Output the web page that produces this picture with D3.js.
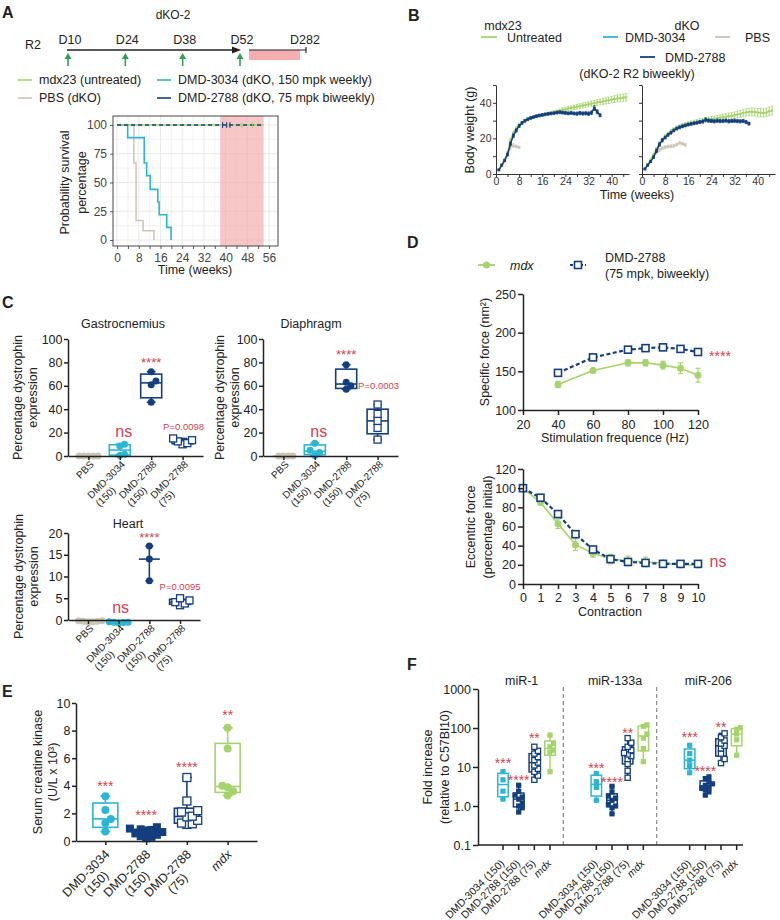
<!DOCTYPE html>
<html>
<head>
<meta charset="utf-8">
<script src="https://cdnjs.cloudflare.com/ajax/libs/d3/7.8.5/d3.min.js"></script>
<style>
  body { margin: 0; background: #fff; }
  text { font-family: "Liberation Sans", Arial, sans-serif; }
</style>
</head>
<body>
<script>
// colours
var cGreen = "#a6d46c", cCyan = "#2bb6d3", cNavy = "#143f7e", cBeige = "#cdc5b6",
    cRed = "#d6404f", cDose = "#2f9e57";

// ---------- data ----------
// A: dosing + survival
var doseDays = [10, 24, 38, 52];
var survPbsT = [0, 6.2, 7, 9.6, 13.6];
var survPbs = [100, 67, 17, 8, 0];
var survCyanT = [0, 3.9, 10, 10.9, 12.2, 15, 15.5, 18.3, 19.9];
var survCyan = [100, 89, 67, 56, 44, 33, 22, 11, 0];
var survAllT = [0, 54];
var survAll = [100, 100];
var censorNavy = [38.9, 40.4, 41.6];
var censorMdx = [46, 50];
var survTicks = [0, 25, 50, 75, 100];

// B: body weight, weekly means and SEM
var bwWeeks = [1, 2, 3, 4, 5, 6, 7, 8, 9, 10, 11, 12, 13, 14, 15, 16, 17, 18, 19, 20, 21, 22, 23,
  24, 25, 26, 27, 28, 29, 30, 31, 32, 33, 34, 35, 36, 37, 38, 39, 40, 41, 42, 43, 44, 45];
var bwMdxL = [2.5, 5, 8, 12, 19, 23, 25.5, 27.5, 28.8, 29.8, 30.6, 31.3, 31.9, 32.4, 32.8, 33.2, 33.5,
  33.9, 34.2, 34.6, 35, 35.5, 36, 36.4, 36.8, 37.1, 37.5, 37.8, 38.2, 38.5, 38.8, 39.2, 39.5, 39.9,
  40.2, 40.5, 40.8, 41.1, 41.4, 41.8, 42.1, 42.4, 42.6, 42.9, 43.1];
var bwMdxLErr = [0.4, 0.5, 0.6, 0.8, 1, 1, 1, 1, 0.9, 0.9, 0.8, 0.8, 0.8, 0.8, 0.8, 0.8, 0.9, 0.9, 0.9,
  1, 1, 1, 1.1, 1.1, 1.2, 1.2, 1.2, 1.3, 1.3, 1.4, 1.4, 1.4, 1.5, 1.5, 1.6, 1.6, 1.7, 1.7, 1.8, 1.8,
  1.9, 1.9, 2, 2, 2.1];
var bwTxL = [2.3, 5, 7.5, 11, 17, 21.5, 24.5, 27, 28.7, 29.9, 30.8, 31.5, 32, 32.5, 32.9, 33.2, 33.5,
  33.8, 34, 34.2, 34.5, 34.7, 34.5, 34.3, 34.1, 34.3, 34, 33.9, 34.2, 34, 34.1, 33.9, 34.4, 37, 35, 33];
var bwTxLErr = [0.3, 0.4, 0.5, 0.7, 1, 1, 0.9, 0.8, 0.7, 0.7, 0.7, 0.7, 0.7, 0.7, 0.7, 0.7, 0.7, 0.7,
  0.7, 0.7, 0.8, 0.8, 0.8, 0.8, 0.8, 0.8, 0.8, 0.9, 0.9, 0.9, 0.9, 1, 1, 1.3, 1.1, 0.8];
var bwPbsL = [2.5, 5, 8, 11, 15, 16, 15.5, 15];
var bwPbsLErr = [0.4, 0.5, 0.7, 0.9, 1.2, 1, 0.8, 0.6];
var bwMdxR = [3, 5.5, 8, 11, 14, 17, 19, 21, 22.5, 24, 25, 26, 26.7, 27.3, 27.8, 28.2, 28.6, 29, 29.4,
  29.8, 30, 30.3, 30.6, 30.9, 31.1, 31.3, 31.6, 31.9, 32.2, 32.4, 32.7, 33, 33.4, 33.8, 34.2, 34.5,
  34.8, 35, 34.8, 34.5, 34.4, 34.3, 34.6, 35.2, 35.7];
var bwMdxRErr = [0.4, 0.5, 0.6, 0.8, 0.9, 1, 1, 1, 1, 1, 1, 1, 1, 1.1, 1.1, 1.1, 1.2, 1.2, 1.2, 1.3,
  1.3, 1.4, 1.4, 1.5, 1.5, 1.6, 1.6, 1.7, 1.7, 1.8, 1.8, 1.9, 1.9, 2, 2, 2.1, 2.1, 2.2, 2.2, 2.3,
  2.3, 2.3, 2.4, 2.4, 2.5];
var bwTxR = [2.8, 5, 7, 9.5, 13, 16.5, 19, 20.5, 22, 23.2, 24.5, 25.5, 26.2, 26.8, 27.3, 27.8, 28.2,
  28.5, 28.8, 29.2, 29.5, 30.5, 30, 29.8, 29.6, 29.9, 29.7, 29.8, 30, 29.6, 29.8, 29.9, 29.7, 29.6,
  29.8, 29.2, 28.3];
var bwTxRErr = [0.3, 0.4, 0.5, 0.7, 0.9, 1, 0.9, 0.8, 0.8, 0.8, 0.8, 0.8, 0.8, 0.8, 0.8, 0.8, 0.8,
  0.8, 0.8, 0.8, 0.9, 1, 0.9, 0.9, 0.9, 0.9, 0.9, 0.9, 0.9, 0.9, 0.9, 0.9, 0.9, 0.9, 0.9, 0.9, 0.8];
var bwPbsR = [2.8, 5, 7.5, 10, 12, 13.5, 14.5, 15, 15.4, 15.6, 15.8, 16.5, 17.5, 17, 16.3];
var bwPbsRErr = [0.4, 0.5, 0.6, 0.8, 0.9, 0.9, 0.8, 0.8, 0.8, 0.8, 0.8, 0.8, 0.8, 0.8, 0.8];

// C: dystrophin expression (%)
var cCats = ["PBS", "DMD-3034 (150)", "DMD-2788 (150)", "DMD-2788 (75)"];
var gastroVals = [[0, 0, 0, 0, 0], [0.5, 1.6, 8.6, 10], [46, 61, 64, 72], [10, 11, 12.5, 13.5, 15]];
var diaphVals = [[0, 0, 0, 0], [0.5, 3, 5, 11], [57, 60, 63, 78], [14, 24, 30, 36, 44]];
var heartVals = [[-0.4, -0.3, -0.2, -0.3, -0.4, -0.2], [-0.7, -0.6, -0.5, -0.5, -0.4], [9, 14, 17],
  [3.4, 3.8, 4.1, 4.5, 5.0]];

// D: muscle force
var freqs = [40, 60, 80, 90, 100, 110, 120];
var sfMdx = [133, 151, 161, 161, 158, 154, 145];
var sfMdxErr = [4, 3, 4, 4, 5, 7, 9];
var sfTx = [148, 168, 178, 180, 181, 179, 175];
var sfTxErr = [2, 2, 2, 2, 2, 2, 2];
var contractions = [0, 1, 2, 3, 4, 5, 6, 7, 8, 9, 10];
var efMdx = [100, 85, 63, 41, 32, 26, 24, 23, 22, 20, 20];
var efMdxErr = [1, 2, 5, 6, 4, 5, 5, 5, 3, 3, 3];
var efTx = [100, 90, 73, 52, 36, 26, 23, 22, 21, 21, 21];
var efTxErr = [1, 2, 2, 2, 2, 2, 1, 1, 1, 1, 1];

// E: serum creatine kinase (U/L x 10^3)
var eCats = ["DMD-3034 (150)", "DMD-2788 (150)", "DMD-2788 (75)", "mdx"];
var ckVals = [[0.68, 1.3, 1.6, 2.25, 3.25],
  [0.2, 0.3, 0.35, 0.45, 0.55, 0.65, 0.7, 0.8, 0.85, 0.9, 1.0],
  [1.2, 1.25, 1.3, 1.5, 1.75, 1.8, 2.1, 2.2, 2.9, 4.6],
  [3.3, 3.6, 3.9, 4.0, 6.7, 8.2]];

// F: serum miRNA fold increase
var fGroups = ["miR-1", "miR-133a", "miR-206"];
var fTicks = [0.1, 1, 10, 100, 1000];
var fTickLabels = ["0.1", "1.0", "10", "100", "1000"];
var mir1 = [[1.5, 2.4, 4.7, 7.6], [0.7, 0.9, 1.0, 1.2, 1.5, 1.7, 1.9, 2.4, 3.4],
  [4.7, 6, 7.5, 9, 11, 13, 15, 18, 22, 26, 33], [7.6, 24, 27, 33, 40, 66]];
var mir133a = [[1.4, 3.0, 4.2, 6.8], [0.63, 0.9, 1.0, 1.1, 1.4, 1.6, 1.8, 2.3, 3.2],
  [5.3, 8, 12, 16, 19, 21, 23, 27, 33, 42, 55], [13.7, 30, 55, 70, 110, 120]];
var mir206 = [[7.1, 11, 15, 22, 36], [1.9, 2.3, 2.6, 2.9, 3.1, 3.4, 3.7, 4.2, 5.0, 5.6],
  [12.6, 16, 22, 30, 35, 40, 48, 58, 73], [20, 50, 70, 92, 102]];

// ---------- helpers ----------
var svg = d3.select("body").append("svg").attr("width", 780).attr("height", 920);

function txt(x, y, s, fs, o) {
  o = o || {};
  var t = svg.append("text")
    .attr("x", x).attr("y", y)
    .attr("text-anchor", o.anchor || "middle")
    .attr("fill", o.color || "#222")
    .style("font-size", fs + "px")
    .text(s);
  if (o.bold) t.style("font-weight", "bold");
  if (o.italic) t.style("font-style", "italic");
  return t;
}

function star(x, cy, s, fs) {
  return txt(x, cy + 0.575 * fs, s, fs, { color: cRed });
}

function yTitle(cx, cy, lines, fs, gap) {
  gap = gap || 15;
  var t = svg.append("text")
    .attr("transform", "translate(" + cx + "," + cy + ")rotate(-90)")
    .attr("text-anchor", "middle").attr("fill", "#222")
    .style("font-size", fs + "px");
  lines.forEach(function (s, i) {
    t.append("tspan").attr("x", 0).attr("y", (i - (lines.length - 1) / 2) * gap)
      .attr("dy", "0.35em").text(s);
  });
}

function axisStyle(g, fs, sw, col) {
  col = col || "#222";
  g.attr("font-family", null).attr("font-size", null);
  g.selectAll("text").style("font-size", fs + "px").attr("fill", col);
  g.selectAll(".domain, .tick line").attr("stroke", col).attr("stroke-width", sw);
}

function line(g, x1, y1, x2, y2, col, sw) {
  return g.append("line").attr("x1", x1).attr("y1", y1).attr("x2", x2).attr("y2", y2)
    .attr("stroke", col).attr("stroke-width", sw);
}

// rotated multi-line category label; the text block ends at the tick
function catLabel(g, x, y, lines, fs, align, italic) {
  var t = g.append("text")
    .attr("transform", "translate(" + x + "," + y + ")rotate(-45)")
    .attr("fill", "#222").style("font-size", fs + "px");
  if (italic) t.style("font-style", "italic");
  var spans = lines.map(function (s, j) {
    return t.append("tspan").attr("dy", j ? "1.15em" : 0).text(s);
  });
  var w = d3.max(spans, function (s) { return s.node().getComputedTextLength(); });
  spans.forEach(function (s) {
    if (align === "middle") s.attr("text-anchor", "middle").attr("x", -w / 2);
    else s.attr("text-anchor", "start").attr("x", -w);
  });
}

// quartiles the GraphPad way, (n+1)p
function quart(vals, p) {
  var s = vals.slice().sort(d3.ascending), n = s.length;
  var pos = (n + 1) * p;
  if (pos <= 1) return s[0];
  if (pos >= n) return s[n - 1];
  var lo = Math.floor(pos);
  return s[lo - 1] + (pos - lo) * (s[lo] - s[lo - 1]);
}

function drawBox(g, cx, y, vals, col, w, sw, capW, medianOnly) {
  var q1 = quart(vals, 0.25), q2 = quart(vals, 0.5), q3 = quart(vals, 0.75);
  var lo = d3.min(vals), hi = d3.max(vals);
  if (medianOnly) {
    line(g, cx, y(lo), cx, y(hi), col, sw);
  } else {
    g.append("rect").attr("x", cx - w / 2).attr("y", y(q3))
      .attr("width", w).attr("height", y(q1) - y(q3))
      .attr("fill", "none").attr("stroke", col).attr("stroke-width", sw);
    line(g, cx, y(q3), cx, y(hi), col, sw);
    line(g, cx, y(q1), cx, y(lo), col, sw);
  }
  line(g, cx - capW / 2, y(hi), cx + capW / 2, y(hi), col, sw);
  line(g, cx - capW / 2, y(lo), cx + capW / 2, y(lo), col, sw);
  line(g, cx - w / 2, y(q2), cx + w / 2, y(q2), col, sw);
}

// simple column scatter: spread points sideways only where they overlap
function drawPoints(g, cx, pys, kind, col, r, step) {
  var placed = [];
  var order = d3.range(pys.length).sort(function (a, b) { return pys[b] - pys[a]; });
  order.forEach(function (i) {
    var py = pys[i], k = 0, off;
    while (true) {
      off = k === 0 ? 0 : (k % 2 ? 1 : -1) * Math.ceil(k / 2) * step;
      var hit = placed.some(function (p) {
        return Math.abs(p[0] - off) < step * 0.9 && Math.abs(p[1] - py) < r * 1.7;
      });
      if (!hit) break;
      k++;
    }
    placed.push([off, py]);
    var px = cx + off;
    if (kind === "circle") {
      g.append("circle").attr("cx", px).attr("cy", py).attr("r", r).attr("fill", col);
    } else {
      g.append("rect").attr("x", px - r).attr("y", py - r)
        .attr("width", 2 * r).attr("height", 2 * r)
        .attr("fill", kind === "open" ? "#fff" : col)
        .attr("stroke", col).attr("stroke-width", kind === "open" ? 1.3 : 0);
    }
  });
}

// ================= A =================
txt(2, 18, "A", 16, { anchor: "start", bold: true });
txt(173, 19, "dKO-2", 12);
txt(25, 49, "R2", 12.5, { anchor: "start" });

var tl = d3.scaleLinear().domain([10, 52]).range([68, 240]);
line(svg, tl(10) - 1, 50, tl(52) - 5, 50, "#222", 1.5);
svg.append("path")
  .attr("d", "M" + (tl(52) - 8) + ",46.5L" + (tl(52) + 1) + ",50L" + (tl(52) - 8) + ",53.5Z")
  .attr("fill", "#222");
doseDays.forEach(function (d) {
  txt(tl(d) + 2, 44, "D" + d, 12.5);
  line(svg, tl(d), 66, tl(d), 57, cDose, 1.6);
  svg.append("path")
    .attr("d", "M" + (tl(d) - 3.5) + ",59L" + tl(d) + ",53L" + (tl(d) + 3.5) + ",59Z")
    .attr("fill", cDose);
});
svg.append("rect").attr("x", tl(52) + 9).attr("y", 50).attr("width", 51).attr("height", 10)
  .attr("fill", "#f2aeb0");
line(svg, tl(52) + 9, 50, tl(52) + 66, 50, "#222", 1.2);
line(svg, tl(52) + 66, 47, tl(52) + 66, 53, "#222", 1.2);
txt(tl(52) + 65, 44, "D282", 12.5);

// legend
[[18, 84, cGreen, "mdx23 (untreated)"], [157, 84, cCyan, "DMD-3034 (dKO, 150 mpk weekly)"],
 [18, 102, cBeige, "PBS (dKO)"], [157, 102, cNavy, "DMD-2788 (dKO, 75 mpk biweekly)"]]
  .forEach(function (l) {
    line(svg, l[0], l[1] - 4, l[0] + 14, l[1] - 4, l[2], 1.6);
    txt(l[0] + 21, l[1], l[3], 12.5, { anchor: "start" });
  });

// survival plot
var ax = d3.scaleLinear().domain([-1.5, 59.3]).range([113, 278]);
var ay = d3.scaleLinear().domain([-5.2, 107.8]).range([246, 116]);
var gA = svg.append("g");
d3.range(0, 57, 4).forEach(function (t) {
  line(gA, ax(t), 116, ax(t), 246, "#e6e6e6", t % 8 ? 0.5 : 0.9);
});
d3.range(0, 101, 12.5).forEach(function (v) {
  line(gA, 113, ay(v), 278, ay(v), "#e6e6e6", v % 25 ? 0.5 : 0.9);
});
gA.append("rect").attr("x", ax(38)).attr("y", 116).attr("width", ax(54) - ax(38)).attr("height", 130)
  .attr("fill", "#f3a8a8").attr("opacity", 0.65);

var stepLine = d3.line()
  .x(function (d) { return ax(d[0]); })
  .y(function (d) { return ay(d[1]); })
  .curve(d3.curveStepAfter);
gA.append("path").datum(d3.zip(survPbsT, survPbs)).attr("d", stepLine)
  .attr("fill", "none").attr("stroke", cBeige).attr("stroke-width", 1.5);
gA.append("path").datum(d3.zip(survCyanT, survCyan)).attr("d", stepLine)
  .attr("fill", "none").attr("stroke", cCyan).attr("stroke-width", 1.6);
gA.append("path").datum(d3.zip(survAllT, survAll)).attr("d", stepLine)
  .attr("fill", "none").attr("stroke", cGreen).attr("stroke-width", 1.6);
gA.append("path").datum(d3.zip(survAllT, survAll)).attr("d", stepLine)
  .attr("fill", "none").attr("stroke", cNavy).attr("stroke-width", 1.6)
  .attr("stroke-dasharray", "4,3");
censorNavy.forEach(function (t) {
  line(gA, ax(t), ay(100) - 3, ax(t), ay(100) + 3, cNavy, 1);
});
censorMdx.forEach(function (t) {
  line(gA, ax(t), ay(100) - 3, ax(t), ay(100) + 3, cGreen, 1);
});
gA.append("rect").attr("x", 113).attr("y", 116).attr("width", 165).attr("height", 130)
  .attr("fill", "none").attr("stroke", "#333").attr("stroke-width", 0.9);

var aXa = gA.append("g").attr("transform", "translate(0,246)")
  .call(d3.axisBottom(ax).tickValues(d3.range(0, 57, 4)).tickSize(3).tickPadding(4)
    .tickFormat(function (d) { return d % 8 ? "" : d; }));
aXa.select(".domain").remove();
axisStyle(aXa, 12, 0.9, "#444");
var aYa = gA.append("g").attr("transform", "translate(113,0)")
  .call(d3.axisLeft(ay).tickValues(survTicks).tickSize(3).tickPadding(3));
aYa.select(".domain").remove();
axisStyle(aYa, 12, 0.9, "#444");
yTitle(73.5, 182.5, ["Probability survival", "percentage"], 12.5, 17);
txt(195, 274, "Time (weeks)", 12.5);

// ================= B =================
txt(408, 21, "B", 16, { anchor: "start", bold: true });
txt(503, 29.5, "mdx23", 12.5);
txt(687, 29.5, "dKO", 12.5);
line(svg, 481, 37, 497, 37, cGreen, 1.8);
txt(507, 41.5, "Untreated", 12.5, { anchor: "start" });
line(svg, 603, 37, 618, 37, cCyan, 1.8);
txt(625, 41.5, "DMD-3034", 12.5, { anchor: "start" });
line(svg, 715, 37, 730, 37, cBeige, 1.8);
txt(745, 41.5, "PBS", 12.5, { anchor: "start" });
line(svg, 640, 57, 655, 57, cNavy, 1.8);
txt(665, 61.5, "DMD-2788", 12.5, { anchor: "start" });
txt(637, 77.5, "(dKO-2 R2 biweekly)", 12.5);

var by = d3.scaleLinear().domain([0, 50]).range([174, 85]);
var bxL = d3.scaleLinear().domain([0, 46]).range([496, 629]);
var bxR = d3.scaleLinear().domain([0, 46]).range([642, 775]);

function weightSeries(g, xs, means, errs, col, ms) {
  var pts = means.map(function (m, i) { return [bwWeeks[i], m, errs[i]]; });
  g.append("path").datum(pts)
    .attr("d", d3.line().x(function (d) { return xs(d[0]); }).y(function (d) { return by(d[1]); }))
    .attr("fill", "none").attr("stroke", col).attr("stroke-width", 1.5);
  pts.forEach(function (d) {
    var x = xs(d[0]);
    line(g, x, by(d[1] - d[2]), x, by(d[1] + d[2]), col, 0.9);
    line(g, x - 1.2, by(d[1] + d[2]), x + 1.2, by(d[1] + d[2]), col, 0.8);
    line(g, x - 1.2, by(d[1] - d[2]), x + 1.2, by(d[1] - d[2]), col, 0.8);
    g.append("rect").attr("x", x - ms / 2).attr("y", by(d[1]) - ms / 2)
      .attr("width", ms).attr("height", ms).attr("fill", col);
  });
}

[[bxL, bwPbsL, bwPbsLErr, bwMdxL, bwMdxLErr, bwTxL, bwTxLErr, true],
 [bxR, bwPbsR, bwPbsRErr, bwMdxR, bwMdxRErr, bwTxR, bwTxRErr, false]].forEach(function (p) {
  var g = svg.append("g");
  var xs = p[0];
  weightSeries(g, xs, p[1], p[2], cBeige, 2.2);
  weightSeries(g, xs, p[3], p[4], cGreen, 2.2);
  weightSeries(g, xs, p[5], p[6], cNavy, 2.8);
  var ya = g.append("g").attr("transform", "translate(" + xs.range()[0] + ",0)")
    .call(d3.axisLeft(by).tickValues([0, 10, 20, 30, 40, 50]).tickSize(3).tickPadding(1.5)
      .tickSizeOuter(0)
      .tickFormat(function (d) { return p[7] && d % 20 === 0 ? d : ""; }));
  axisStyle(ya, 10.5, 1, "#333");
  var xa = g.append("g").attr("transform", "translate(0,174)")
    .call(d3.axisBottom(xs).tickValues(d3.range(0, 45, 4)).tickSize(3).tickPadding(1)
      .tickSizeOuter(0)
      .tickFormat(function (d) { return d % 8 ? "" : d; }));
  axisStyle(xa, 10.5, 1, "#333");
});
yTitle(470, 130, ["Body weight (g)"], 12.5);
txt(637, 199, "Time (weeks)", 12.5);

// ================= C =================
txt(2, 308, "C", 16, { anchor: "start", bold: true });

function catPanel(c) {
  var x = d3.scalePoint().domain(c.cats).range([c.x0, c.x1]).padding(c.pad);
  var y = d3.scaleLinear().domain([0, c.ymax]).range([c.yb, c.yt]);
  var g = svg.append("g");
  c.vals.forEach(function (vals, i) {
    var cx = x(c.cats[i]);
    drawBox(g, cx, y, vals, c.colors[i], c.boxW, 1.6, c.capW || c.boxW * 0.42, c.medianOnly === i);
    drawPoints(g, cx, vals.map(y), c.kinds[i], c.colors[i], c.r, c.r * 1.35);
  });
  var ya = g.append("g").attr("transform", "translate(" + c.x0 + ",0)")
    .call(d3.axisLeft(y).tickValues(c.yticks).tickSize(4).tickPadding(1.5).tickSizeOuter(0));
  axisStyle(ya, c.tickFs, 1.5);
  var xa = g.append("g").attr("transform", "translate(0," + c.yb + ")")
    .call(d3.axisBottom(x).tickSize(4).tickSizeOuter(0).tickFormat(""));
  axisStyle(xa, c.tickFs, 1.5);
  c.cats.forEach(function (name) {
    catLabel(g, x(name) + c.ldx, c.yb + c.ldy, name.split(" "), c.catFs, c.align, name === "mdx");
  });
  if (c.title) txt(c.titleX, c.titleY, c.title, 12.5);
  return x;
}

var cKinds = ["circle", "circle", "circle", "open"];
var cColors = [cBeige, cCyan, cNavy, cNavy];

var xg = catPanel({ cats: cCats, vals: gastroVals, kinds: cKinds, colors: cColors,
  x0: 68, x1: 203, pad: 0.65, yb: 456, yt: 339, ymax: 100, yticks: [0, 20, 40, 60, 80, 100],
  boxW: 21, r: 3.5, tickFs: 12.5, catFs: 10, align: "start", ldx: 6, ldy: 9,
  title: "Gastrocnemius", titleX: 123, titleY: 327.5 });
yTitle(25.5, 397.5, ["Percentage dystrophin", "expression"], 12.5);
star(xg(cCats[2]), 359.5, "****", 13);
txt(xg(cCats[1]) + 4, 437, "ns", 16, { color: cRed });
txt(xg(cCats[3]) + 1, 429.5, "P=0.0098", 9.5, { color: cRed });

var xd = catPanel({ cats: cCats, vals: diaphVals, kinds: cKinds, colors: cColors,
  x0: 263, x1: 398, pad: 0.65, yb: 456, yt: 339, ymax: 100, yticks: [0, 20, 40, 60, 80, 100],
  boxW: 21, r: 3.5, tickFs: 12.5, catFs: 10, align: "start", ldx: 6, ldy: 9,
  title: "Diaphragm", titleX: 311, titleY: 327.5 });
yTitle(227.5, 397.5, ["Percentage dystrophin", "expression"], 12.5);
star(xd(cCats[2]), 352, "****", 13);
txt(xd(cCats[1]) + 4, 437, "ns", 16, { color: cRed });
txt(xd(cCats[3]) + 1, 388.5, "P=0.0003", 9.5, { color: cRed });

var xh = catPanel({ cats: cCats, vals: heartVals, kinds: cKinds, colors: cColors,
  x0: 68, x1: 200, pad: 0.65, yb: 620, yt: 533, ymax: 20, yticks: [0, 5, 10, 15, 20],
  boxW: 21, r: 3.5, tickFs: 12.5, catFs: 10, align: "start", ldx: 6, ldy: 9, medianOnly: 2, capW: 8,
  title: "Heart", titleX: 128, titleY: 527.5 });
yTitle(26.5, 576.5, ["Percentage dystrophin", "expression"], 12.5);
star(xh(cCats[2]), 535, "****", 13);
txt(xh(cCats[1]) + 2, 613, "ns", 16, { color: cRed });
txt(xh(cCats[3]), 590, "P=0.0095", 9.5, { color: cRed });

// ================= D =================
txt(407, 248, "D", 16, { anchor: "start", bold: true });
line(svg, 478, 265, 495, 265, cGreen, 1.8);
svg.append("circle").attr("cx", 486.5).attr("cy", 265).attr("r", 3.5).attr("fill", cGreen);
txt(510, 269.5, "mdx", 12.5, { anchor: "start", italic: true });
line(svg, 570, 265, 586, 265, cNavy, 2).attr("stroke-dasharray", "3,2");
svg.append("rect").attr("x", 574.5).attr("y", 261.5).attr("width", 7).attr("height", 7)
  .attr("fill", "#fff").attr("stroke", cNavy).attr("stroke-width", 1.6);
txt(605, 261.5, "DMD-2788", 12.5, { anchor: "start" });
txt(605, 277.5, "(75 mpk, biweekly)", 12.5, { anchor: "start" });

function forceSeries(g, xs, ys, xv, yv, ev, col, dashed) {
  var pts = xv.map(function (v, i) { return [v, yv[i], ev[i]]; });
  g.append("path").datum(pts)
    .attr("d", d3.line().x(function (d) { return xs(d[0]); }).y(function (d) { return ys(d[1]); }))
    .attr("fill", "none").attr("stroke", col).attr("stroke-width", dashed ? 2.2 : 1.6)
    .attr("stroke-dasharray", dashed ? "4,2.5" : null);
  pts.forEach(function (d) {
    var x = xs(d[0]);
    line(g, x, ys(d[1] - d[2]), x, ys(d[1] + d[2]), col, 1.2);
    line(g, x - 2.5, ys(d[1] + d[2]), x + 2.5, ys(d[1] + d[2]), col, 1.2);
    line(g, x - 2.5, ys(d[1] - d[2]), x + 2.5, ys(d[1] - d[2]), col, 1.2);
    if (dashed) {
      g.append("rect").attr("x", x - 3.5).attr("y", ys(d[1]) - 3.5).attr("width", 7).attr("height", 7)
        .attr("fill", "#fff").attr("stroke", col).attr("stroke-width", 1.6);
    } else {
      g.append("circle").attr("cx", x).attr("cy", ys(d[1])).attr("r", 3.5).attr("fill", col);
    }
  });
}

// specific force
var dx1 = d3.scaleLinear().domain([20, 120]).range([523, 698]);
var dy1 = d3.scaleLinear().domain([100, 250]).range([410, 294]);
var gD1 = svg.append("g");
forceSeries(gD1, dx1, dy1, freqs, sfMdx, sfMdxErr, cGreen, false);
forceSeries(gD1, dx1, dy1, freqs, sfTx, sfTxErr, cNavy, true);
axisStyle(gD1.append("g").attr("transform", "translate(523,0)")
  .call(d3.axisLeft(dy1).tickValues([100, 150, 200, 250]).tickSize(5).tickPadding(2).tickSizeOuter(0)),
  12.5, 1.5);
axisStyle(gD1.append("g").attr("transform", "translate(0,410)")
  .call(d3.axisBottom(dx1).tickValues([20, 40, 60, 80, 100, 120]).tickSize(5).tickPadding(5)
    .tickSizeOuter(0)), 12.5, 1.5);
yTitle(485, 352, ["Specific force (nm\u00b2)"], 12.5);
txt(615, 442, "Stimulation frequence (Hz)", 12.5);
star(720, 353, "****", 14);

// eccentric force
var dx2 = d3.scaleLinear().domain([0, 10]).range([523, 698]);
var dy2 = d3.scaleLinear().domain([0, 120]).range([584, 469]);
var gD2 = svg.append("g");
forceSeries(gD2, dx2, dy2, contractions, efMdx, efMdxErr, cGreen, false);
forceSeries(gD2, dx2, dy2, contractions, efTx, efTxErr, cNavy, true);
axisStyle(gD2.append("g").attr("transform", "translate(523,0)")
  .call(d3.axisLeft(dy2).tickValues([0, 20, 40, 60, 80, 100, 120]).tickSize(5).tickPadding(2)
    .tickSizeOuter(0)), 12.5, 1.5);
axisStyle(gD2.append("g").attr("transform", "translate(0,584)")
  .call(d3.axisBottom(dx2).tickValues(contractions).tickSize(5).tickPadding(4).tickSizeOuter(0)),
  12.5, 1.5);
yTitle(479.5, 527, ["Eccentric force", "(percentage initial)"], 12.5, 17);
txt(610, 616, "Contraction", 12.5);
txt(718, 567, "ns", 16, { color: cRed });

// ================= E =================
txt(2, 697, "E", 16, { anchor: "start", bold: true });
var xe = catPanel({ cats: eCats, vals: ckVals, kinds: ["circle", "square", "open", "circle"],
  colors: [cCyan, cNavy, cNavy, cGreen],
  x0: 76, x1: 257, pad: 0.72, yb: 841, yt: 703, ymax: 10, yticks: [0, 2, 4, 6, 8, 10],
  boxW: 25, r: 4, tickFs: 12.5, catFs: 12.5, align: "middle", ldx: 5, ldy: 14, capW: 10 });
yTitle(45.5, 772, ["Serum creatine kinase", "(U/L x 10\u00b3)"], 12.5);
star(xe(eCats[0]), 783, "***", 14);
star(xe(eCats[1]), 812, "****", 14);
star(xe(eCats[2]), 764, "****", 14);
star(xe(eCats[3]), 712, "**", 14);

// ================= F =================
txt(407, 670, "F", 16, { anchor: "start", bold: true });
var fy = d3.scaleLog().domain([0.1, 1000]).range([845, 689]);
var fxg = d3.scaleBand().domain(fGroups).range([470, 750]);
var fxi = d3.scalePoint().domain(eCats).range([33, 80]);
var gF = svg.append("g");
var fKinds = ["square", "square", "open", "square"];
var fColors = [cCyan, cNavy, cNavy, cGreen];
[mir1, mir133a, mir206].forEach(function (grp, gi) {
  var g0 = fxg(fGroups[gi]);
  if (gi > 0) {
    line(gF, g0, 687, g0, 845, "#8a8a8a", 1.2).attr("stroke-dasharray", "4,3");
  }
  grp.forEach(function (vals, i) {
    var cx = g0 + fxi(eCats[i]);
    drawBox(gF, cx, fy, vals, fColors[i], 10.5, 1.5, 5, false);
    drawPoints(gF, cx, vals.map(fy), fKinds[i], fColors[i], 2.6, 3.6);
    line(gF, cx, 845, cx, 850, "#222", 1.5);
    catLabel(gF, cx + 2, 864, [eCats[i]], 10.5, "start", eCats[i] === "mdx");
  });
  txt(g0 + fxg.bandwidth() / 2 + 5, 684.5, fGroups[gi], 12.5);
});
line(gF, 478, 845, 743, 845, "#222", 1.5);
axisStyle(gF.append("g").attr("transform", "translate(478,0)")
  .call(d3.axisLeft(fy).tickValues(fTicks).tickSize(5).tickPadding(2).tickSizeOuter(0)
    .tickFormat(function (d, i) { return fTickLabels[i]; })), 12.5, 1.5);
yTitle(436.5, 767, ["Fold increase", "(relative to C57Bl10)"], 12.5, 17);

// significance marks over the DMD groups
var fStarY = [[760, 777, 735], [765, 779, 730], [734, 768, 724]];
var fStarTxt = ["***", "****", "**"];
fStarY.forEach(function (ys, gi) {
  ys.forEach(function (cy, i) {
    star(fxg(fGroups[gi]) + fxi(eCats[i]), cy, fStarTxt[i], 14);
  });
});
</script>
</body>
</html>
